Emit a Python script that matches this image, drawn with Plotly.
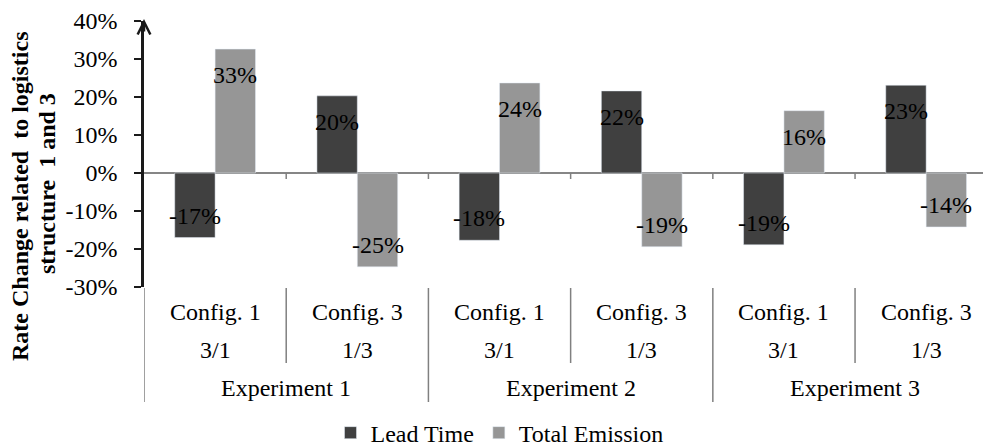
import plotly.graph_objects as go

# ---- data ----
experiments = ["Experiment 1", "Experiment 2", "Experiment 3"]
configs = ["Config. 1", "Config. 3", "Config. 1", "Config. 3", "Config. 1", "Config. 3"]
ratios = ["3/1", "1/3", "3/1", "1/3", "3/1", "1/3"]
lead_time = [-0.170, 0.203, -0.177, 0.216, -0.189, 0.231]
total_emission = [0.326, -0.247, 0.237, -0.194, 0.164, -0.142]
ytick_vals = [-0.3, -0.2, -0.1, 0.0, 0.1, 0.2, 0.3, 0.4]
ytick_text = ["-30%", "-20%", "-10%", "0%", "10%", "20%", "30%", "40%"]
ytitle_lines = ["Rate Change related  to logistics", "structure  1 and 3"]

FONT = "Liberation Serif, Times New Roman, serif"
FS = 24
DARK = "#404040"
LIGHT = "#969696"

idx = list(range(len(configs)))
BARGAP = 0.432
half_bar = (1 - BARGAP) / 4  # center offset of each bar in group (category units)

fig = go.Figure()
fig.add_trace(go.Bar(x=idx, y=lead_time, name="Lead Time", marker_color=DARK))
fig.add_trace(go.Bar(x=idx, y=total_emission, name="Total Emission", marker_color=LIGHT))

txtfont = dict(family=FONT, size=FS, color="black")
annotations = []
# data labels (inside end)
for series, off in ((lead_time, -half_bar), (total_emission, half_bar)):
    for i, v in zip(idx, series):
        annotations.append(dict(
            x=i + off, y=v, xref="x", yref="y", text=f"{round(v * 100):d}%",
            showarrow=False, yshift=-26 if v > 0 else 22,
            xanchor="center", yanchor="middle", font=txtfont))

# category labels (two lines) and experiment labels
for i in idx:
    annotations.append(dict(x=i, y=0, xref="x", yref="paper", text=configs[i],
                            showarrow=False, yshift=-25, yanchor="middle", font=txtfont))
    annotations.append(dict(x=i, y=0, xref="x", yref="paper", text=ratios[i],
                            showarrow=False, yshift=-63, yanchor="middle", font=txtfont))
for k, e in enumerate(experiments):
    annotations.append(dict(x=2 * k + 0.5, y=0, xref="x", yref="paper", text=e,
                            showarrow=False, yshift=-101, yanchor="middle", font=txtfont))

# y-axis title (two lines)
for line, xs, yc in zip(ytitle_lines, (-124, -97), (0.342, 0.387)):
    annotations.append(dict(x=0, y=yc, xref="paper", yref="paper", xshift=xs,
                            text=f"<b>{line}</b>", textangle=-90, showarrow=False,
                            xanchor="center", yanchor="middle", font=txtfont))

# axis arrow head
annotations.append(dict(x=0, y=1, xref="paper", yref="paper", yshift=2,
                        ax=0, ay=14, axref="pixel", ayref="pixel",
                        showarrow=True, arrowhead=5, arrowsize=1.0, arrowwidth=2.5,
                        arrowcolor="#1a1a1a", standoff=0, text=""))

shapes = []
# small ticks on zero line at category boundaries
for i in idx[:-1]:
    shapes.append(dict(type="line", xref="x", yref="y", x0=i + 0.5, x1=i + 0.5,
                       ysizemode="pixel", yanchor=0, y0=0, y1=-6,
                       line=dict(color="#808080", width=1.5)))
# divider lines in label area
for b in range(len(idx)):
    x = b - 0.5
    long = (b % 2 == 0)
    shapes.append(dict(type="line", xref="x", yref="paper", x0=x, x1=x,
                       ysizemode="pixel", yanchor=0, y0=-1, y1=-115 if long else -76,
                       line=dict(color="#808080", width=1.5)))

fig.update_layout(
    width=983, height=440,
    margin=dict(l=136, r=0, t=13, b=161),
    paper_bgcolor="white", plot_bgcolor="white",
    barmode="group", bargap=BARGAP, bargroupgap=0,
    font=txtfont,
    showlegend=True,
    legend=dict(orientation="h", xref="container", yref="container",
                x=0.5, y=0.034, xanchor="center", yanchor="middle",
                font=txtfont, itemwidth=30, tracegroupgap=0),
    annotations=annotations, shapes=shapes,
)
fig.update_xaxes(range=[-0.5, 5.456], showticklabels=False, showgrid=False,
                 zeroline=False, showline=False, ticks="")
fig.update_yaxes(range=[-0.3, 0.4], tickvals=ytick_vals, ticktext=ytick_text,
                 showgrid=False, zeroline=True, zerolinecolor="#868686", zerolinewidth=1.5,
                 showline=True, linecolor="#1a1a1a", linewidth=2.5,
                 ticks="outside", ticklen=7, tickwidth=2, tickcolor="#1a1a1a",
                 ticklabelstandoff=12, tickfont=txtfont)

fig.write_html("out.html")
